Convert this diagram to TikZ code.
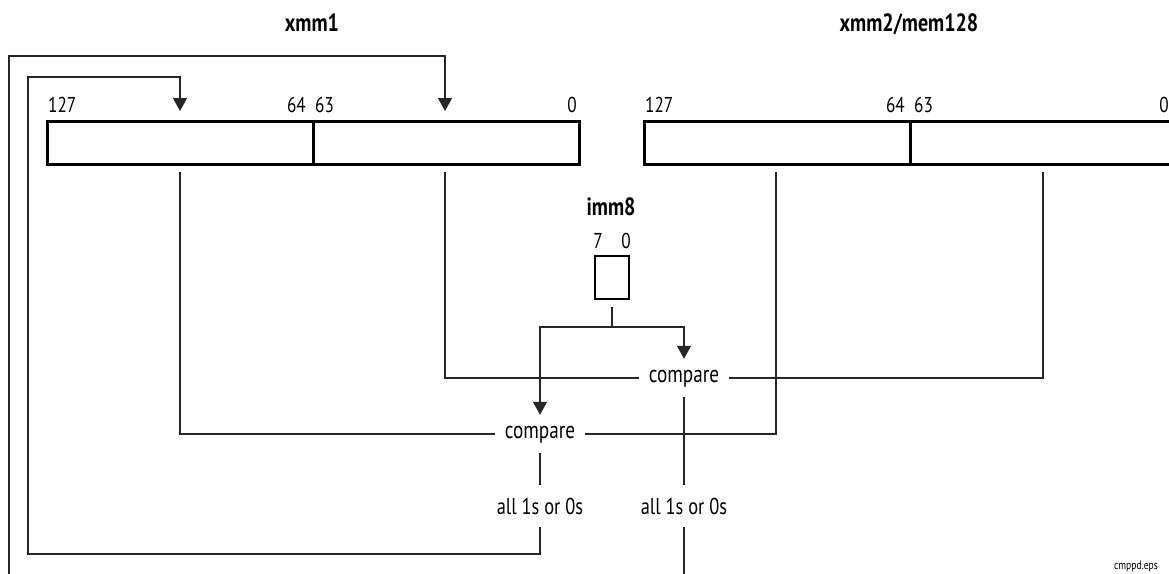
\documentclass[tikz,border=0pt]{standalone}
\usepackage{fontspec}
\setmainfont{PT Sans}[FakeStretch=0.8]
\usetikzlibrary{arrows.meta}
\begin{document}
\begin{tikzpicture}[x=1pt,y=-1pt,
  reg/.style={draw,line width=2.5pt,minimum height=43pt,inner sep=0pt,anchor=north west},
  conn/.style={line width=1.4pt,draw=black!85},
  arr/.style={conn,-{Triangle[width=14pt,length=13pt]}},
  bit/.style={font=\fontsize{21.5}{23}\selectfont,inner sep=0pt},
  title/.style={font=\fontsize{25}{27}\selectfont\bfseries,inner sep=0pt},
  op/.style={font=\fontsize{24}{26}\selectfont,inner xsep=10pt,inner ysep=10pt,text height=13pt,text depth=5pt},
  res/.style={font=\fontsize{23}{25}\selectfont,inner xsep=6pt,inner ysep=13pt,text height=16pt,text depth=0pt}]
\clip (0,0) rectangle (1169,573);
\fill[white] (0,0) rectangle (1169,573);
% titles
\node[title,anchor=base] (t1) at (312,31) {xmm1};
\node[title,anchor=base] (t2) at (909,31) {xmm2/mem128};
\node[title,anchor=base] (t3) at (611,215) {imm8};
% registers
\node[reg,minimum width=266pt] (x1h) at (46,120) {};
\node[reg,minimum width=266pt] (x1l) at (312,120) {};
\node[reg,minimum width=266pt] (x2h) at (643,120) {};
\node[reg,minimum width=270pt] (x2l) at (909,120) {};
% bit labels
\node[bit,anchor=base west] (l1) at (48,112) {127};
\node[bit,anchor=base east] (l2) at (306,112) {64};
\node[bit,anchor=base west] (l3) at (315,112) {63};
\node[bit,anchor=base east] (l4) at (577,112) {0};
\node[bit,anchor=base west] (l5) at (645,112) {127};
\node[bit,anchor=base east] (l6) at (905,112) {64};
\node[bit,anchor=base west] (l7) at (914,112) {63};
\node[bit,anchor=base east] (l8) at (1169,112) {0};
% imm8
\node[bit,anchor=base] (i7) at (598,248) {7};
\node[bit,anchor=base] (i0) at (626,248) {0};
\node[draw,line width=2.5pt,minimum width=34pt,minimum height=43pt,inner sep=0pt] (imm) at (612,277.5) {};
% compare and results
\node[op] (cmpR) at (684,378) {compare};
\node[op] (cmpL) at (540,434) {compare};
\node[res] (resL) at (540,506) {all 1s or 0s};
\node[res] (resR) at (684,506) {all 1s or 0s};
\node[font=\fontsize{12}{13}\selectfont,inner sep=0pt] (foot) at (1136,566) {cmppd.eps};
% coordinates
\coordinate (a1) at (180,172);
\coordinate (a2) at (445,172);
\coordinate (b1) at (776,172);
\coordinate (b2) at (1043,172);
\coordinate (s1) at (612,307);
\coordinate (s2) at (612,327);
\coordinate (c1) at (28,554);
\coordinate (c2) at (180,77);
\coordinate (tp1) at (180,111);
\coordinate (o1) at (9,600);
\coordinate (o2) at (445,56);
\coordinate (tp2) at (445,111);
% connectors
\draw[conn] (a1) |- (cmpL.west);
\draw[conn] (b1) |- (cmpL.east);
\draw[conn] (a2) |- (cmpR.west);
\draw[conn] (b2) |- (cmpR.east);
\draw[conn] (s1) -- (s2);
\draw[arr] (s2) -| (cmpR.north);
\draw[arr] (s2) -| (cmpL.north);
\draw[conn] (cmpL.south) -- (resL.north);
\draw[conn] (cmpR.south) -- (resR.north);
\draw[arr] (resL.south) |- (c1) |- (c2) -- (tp1);
\draw[arr] (resR.south) |- (o1) |- (o2) -- (tp2);
\end{tikzpicture}
\end{document}
